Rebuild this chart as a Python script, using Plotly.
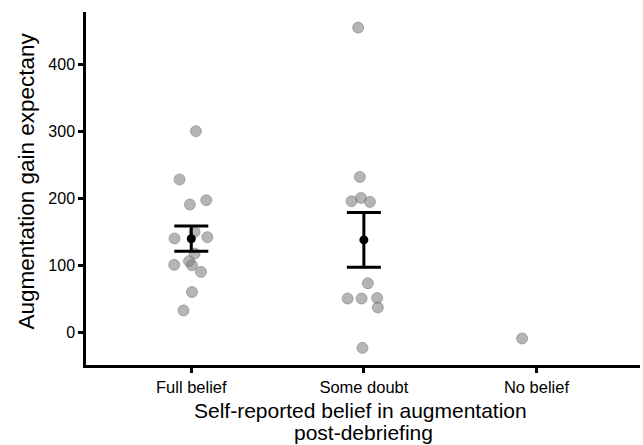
import numpy as np
import plotly.graph_objects as go

categories = ["Full belief", "Some doubt", "No belief"]

full_belief = [300, 228, 190.6, 197, 149.7, 140, 141.8, 117.4, 100.5, 106, 100, 90, 60, 32.4]
full_jitter = [0.027, -0.068, -0.008, 0.087, 0.019, -0.097, 0.093, 0.019, -0.099, -0.013, 0.004, 0.056, 0.004, -0.045]

some_doubt = [454.7, 231.8, 195.5, 200.5, 194.5, 73, 50.2, 50.2, 51, 36.9, -23.4]
some_jitter = [-0.033, -0.023, -0.071, -0.017, 0.035, 0.023, -0.094, -0.013, 0.077, 0.081, -0.008]

no_belief = [-9.4]
no_jitter = [-0.083]

groups = [(full_belief, full_jitter), (some_doubt, some_jitter), (no_belief, no_jitter)]

y_ticks = [0, 100, 200, 300, 400]

x_title_lines = ["Self-reported belief in augmentation", "post-debriefing"]
y_title = "Augmentation gain expectany"

fig = go.Figure()

xs, ys = [], []
for i, (vals, jit) in enumerate(groups):
    xs += [i + j for j in jit]
    ys += vals

fig.add_trace(go.Scatter(
    x=xs, y=ys, mode="markers",
    marker=dict(size=11, color="rgba(120,120,120,0.55)",
                line=dict(color="rgba(120,120,120,0.55)", width=1)),
    showlegend=False, hoverinfo="y"))

mx, my, me = [], [], []
for i, (vals, _) in enumerate(groups):
    if len(vals) > 1:
        a = np.array(vals, dtype=float)
        mx.append(i)
        my.append(a.mean())
        me.append(a.std(ddof=1) / np.sqrt(len(a)))

fig.add_trace(go.Scatter(
    x=mx, y=my, mode="markers",
    marker=dict(size=9, color="black"),
    error_y=dict(type="data", array=me, visible=True, color="black", thickness=3, width=17),
    showlegend=False))

font = "Liberation Sans, Arial, sans-serif"

annotations = [
    dict(text=x_title_lines[0], xref="paper", yref="paper", x=0.495, y=-0.128,
         xanchor="center", yanchor="middle", showarrow=False,
         font=dict(family=font, size=21, color="black")),
    dict(text=x_title_lines[1], xref="paper", yref="paper", x=0.5, y=-0.192,
         xanchor="center", yanchor="middle", showarrow=False,
         font=dict(family=font, size=21, color="black")),
    dict(text=y_title, xref="paper", yref="paper", x=-0.108, y=0.52,
         xanchor="center", yanchor="middle", showarrow=False, textangle=-90,
         font=dict(family=font, size=22.5, color="black")),
]

fig.update_layout(
    width=643, height=445,
    margin=dict(l=86, r=3, t=12, b=80),
    plot_bgcolor="white", paper_bgcolor="white",
    font=dict(family=font, color="black"),
    annotations=annotations,
    xaxis=dict(
        range=[-0.61, 2.6],
        tickvals=[0, 1, 2], ticktext=categories,
        showline=True, linecolor="black", linewidth=2.5,
        ticks="outside", ticklen=5, tickwidth=2.5, tickcolor="black",
        showgrid=False, zeroline=False,
        tickfont=dict(size=16.5, color="black"),
    ),
    yaxis=dict(
        range=[-49, 478],
        tickvals=y_ticks,
        showline=True, linecolor="black", linewidth=2.5,
        ticks="outside", ticklen=5, tickwidth=2.5, tickcolor="black",
        showgrid=False, zeroline=False,
        tickfont=dict(size=16, color="black"),
    ),
)

fig.write_html("out.html")
